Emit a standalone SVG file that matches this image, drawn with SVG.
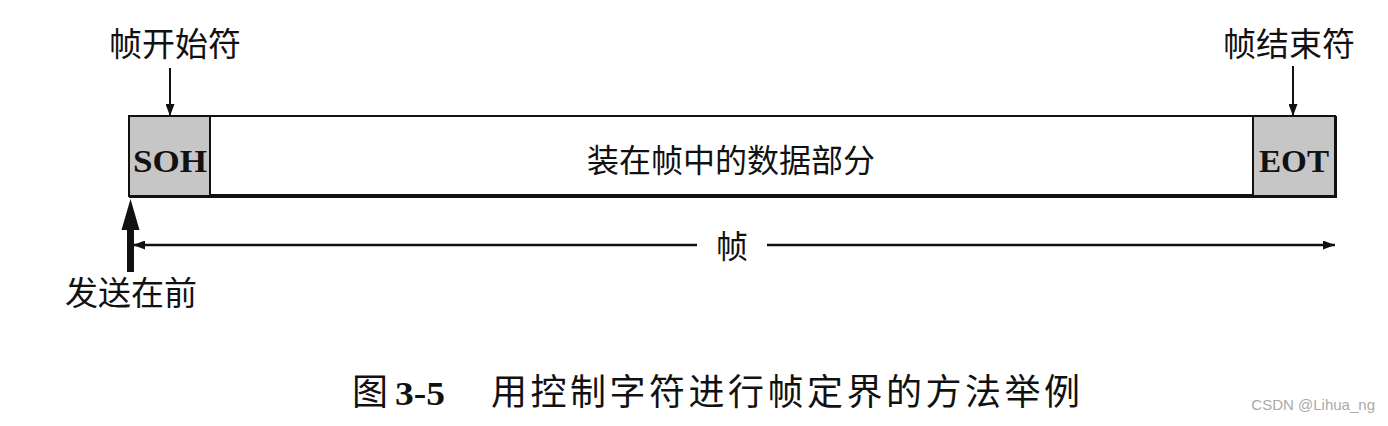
<svg xmlns="http://www.w3.org/2000/svg" width="1388" height="426" viewBox="0 0 1388 426">
<style>
.cjk{font-family:"Noto Sans CJK SC","Noto Sans",sans-serif;fill:#111;}
.lat{font-family:"Liberation Serif","DejaVu Serif",serif;font-weight:bold;fill:#111;}
.ln{stroke:#111;fill:none;}
.ctl{fill:#c6c6c6;stroke:#111;stroke-width:2;}
</style>
<defs>
<marker id="ah" viewBox="0 0 10 10" refX="10" refY="5" markerWidth="12" markerHeight="9" markerUnits="userSpaceOnUse" orient="auto-start-reverse" preserveAspectRatio="none">
<path d="M0,0 L10,5 L0,10 z" fill="#111"/>
</marker>
</defs>
<rect width="1388" height="426" fill="#fff"/>
<g id="frame">
<rect x="129" y="116" width="1206" height="80" fill="#fff" stroke="#111" stroke-width="2"/>
<line x1="129" y1="196" x2="1336" y2="196" stroke="#111" stroke-width="4"/>
<line x1="1335" y1="116" x2="1335" y2="198" stroke="#111" stroke-width="4"/>
</g>
<g id="soh">
<rect class="ctl" x="129" y="116" width="81" height="80"/>
<text class="lat" x="170" y="172" font-size="32" text-anchor="middle" textLength="74" lengthAdjust="spacingAndGlyphs">SOH</text>
</g>
<g id="data">
<text class="cjk" x="731" y="172" font-size="32" text-anchor="middle">装在帧中的数据部分</text>
</g>
<g id="eot">
<rect class="ctl" x="1253" y="116" width="82" height="80"/>
<text class="lat" x="1294" y="172" font-size="32" text-anchor="middle" textLength="70" lengthAdjust="spacingAndGlyphs">EOT</text>
</g>
<g id="label-start">
<text class="cjk" x="175" y="56" font-size="33" text-anchor="middle">帧开始符</text>
</g>
<g id="label-end">
<text class="cjk" x="1289" y="56" font-size="33" text-anchor="middle">帧结束符</text>
</g>
<g id="label-send">
<text class="cjk" x="131" y="305" font-size="33" text-anchor="middle">发送在前</text>
</g>
<g id="label-frame">
<text class="cjk" x="732" y="258" font-size="32" text-anchor="middle">帧</text>
</g>
<g id="connectors">
<line class="ln" x1="170" y1="68" x2="170" y2="116" stroke-width="2" marker-end="url(#ah)"/>
<line class="ln" x1="1293" y1="66" x2="1293" y2="116" stroke-width="2" marker-end="url(#ah)"/>
<line class="ln" x1="130.5" y1="272" x2="130.5" y2="225" stroke-width="7"/>
<path d="M130.5,199 L139.5,230 L121.5,230 z" fill="#111"/>
<line class="ln" x1="133" y1="245" x2="697" y2="245" stroke-width="2.5" marker-start="url(#ah)"/>
<line class="ln" x1="767" y1="245" x2="1335" y2="245" stroke-width="2.5" marker-end="url(#ah)"/>
</g>
<g id="caption">
<text class="cjk" x="352" y="405" font-size="36">图</text>
<text x="395" y="405" font-size="34" font-family="Liberation Serif,serif" font-weight="bold" fill="#111" textLength="50" lengthAdjust="spacingAndGlyphs">3-5</text>
<text class="cjk" x="491" y="405" font-size="36" letter-spacing="3.5">用控制字符进行帧定界的方法举例</text>
<text x="1375" y="410" font-size="15" font-family="Liberation Sans,Arial,sans-serif" fill="#aaa" text-anchor="end">CSDN @Lihua_ng</text>
</g>
</svg>
